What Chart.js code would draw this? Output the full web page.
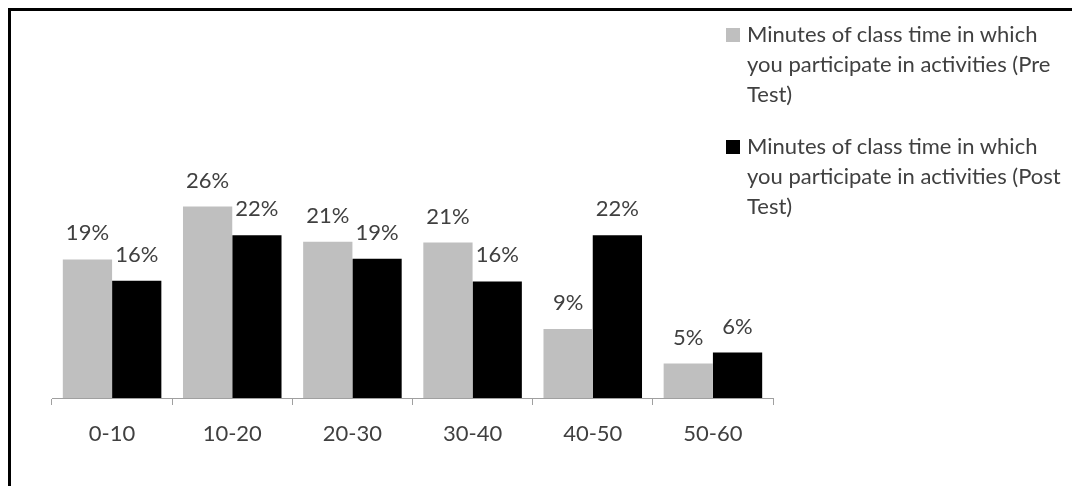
<!DOCTYPE html>
<html>
<head>
<meta charset="utf-8">
<script src="https://cdn.jsdelivr.net/npm/chart.js@4.4.0/dist/chart.umd.min.js"></script>
<style>
  html, body { margin: 0; padding: 0; background: #fff; }
  body { width: 1072px; height: 486px; position: relative; overflow: hidden; font-family: Lato, "Open Sans", sans-serif; }
  #frame { position: absolute; left: 8px; top: 8px; width: 1100px; height: 520px; border: 3px solid #000; box-sizing: border-box; }
  #wrap { position: absolute; left: 0; top: 0; width: 1072px; height: 486px; }
  #legend { position: absolute; left: 726px; top: 19px; width: 346px; color: #404040; font-size: 22px; line-height: 30px; }
  .item { position: relative; padding-left: 21px; margin-bottom: 22px; }
  .swatch { position: absolute; left: 0; top: 9px; width: 14px; height: 14px; }
</style>
</head>
<body>
<div id="frame"></div>
<div id="wrap"><canvas id="chart" width="1072" height="486"></canvas></div>
<div id="legend"></div>
<script>
"use strict";

const categories = ['0-10', '10-20', '20-30', '30-40', '40-50', '50-60'];
const seriesNames = [
  'Minutes of class time in which you participate in activities (Pre Test)',
  'Minutes of class time in which you participate in activities (Post Test)'
];
const preTest = [18.9, 26.1, 21.3, 21.2, 9.4, 4.7];
const postTest = [16.0, 22.2, 19.0, 15.9, 22.2, 6.2];
const seriesColors = ['#bfbfbf', '#000000'];

const textColor = '#404040';
const fontFamily = 'Lato, "Open Sans", sans-serif';

// labels like "19%" drawn over each bar
const barLabels = {
  id: 'barLabels',
  afterDatasetsDraw(chart) {
    const ctx = chart.ctx;
    ctx.save();
    ctx.font = '22px ' + fontFamily;
    ctx.fillStyle = textColor;
    ctx.textAlign = 'center';
    ctx.textBaseline = 'alphabetic';
    chart.data.datasets.forEach((ds, i) => {
      const meta = chart.getDatasetMeta(i);
      meta.data.forEach((bar, j) => {
        ctx.fillText(Math.round(ds.data[j]) + '%', bar.x, bar.y - 19);
      });
    });
    ctx.restore();
  }
};

const ctx = document.getElementById('chart').getContext('2d');
const myChart = new Chart(ctx, {
  type: 'bar',
  data: {
    labels: categories,
    datasets: [
      { label: seriesNames[0], data: preTest, backgroundColor: seriesColors[0], borderWidth: 0 },
      { label: seriesNames[1], data: postTest, backgroundColor: seriesColors[1], borderWidth: 0 }
    ]
  },
  options: {
    responsive: false,
    animation: false,
    layout: { padding: { left: 52, right: 299, top: 178, bottom: 0 } },
    plugins: {
      legend: { display: false },
      tooltip: { enabled: false }
    },
    datasets: {
      bar: { categoryPercentage: 0.82, barPercentage: 1.0 }
    },
    scales: {
      x: {
        grid: { display: true, drawOnChartArea: false, drawTicks: true, tickLength: 7, offset: true, color: '#a0a0a0' },
        border: { display: true, color: '#a0a0a0', width: 1 },
        ticks: { color: textColor, font: { family: fontFamily, size: 22 }, padding: 16 },
        afterFit: (scale) => { scale.height = 88; }
      },
      y: {
        display: false,
        min: 0,
        max: 30
      }
    }
  },
  plugins: [barLabels]
});

// html legend, so the long names can wrap
const legendBox = document.getElementById('legend');
seriesNames.forEach((name, i) => {
  const item = document.createElement('div');
  item.className = 'item';
  const sw = document.createElement('span');
  sw.className = 'swatch';
  sw.style.background = seriesColors[i];
  item.append(sw);
  item.append(document.createTextNode(name));
  legendBox.append(item);
});
</script>
</body>
</html>
